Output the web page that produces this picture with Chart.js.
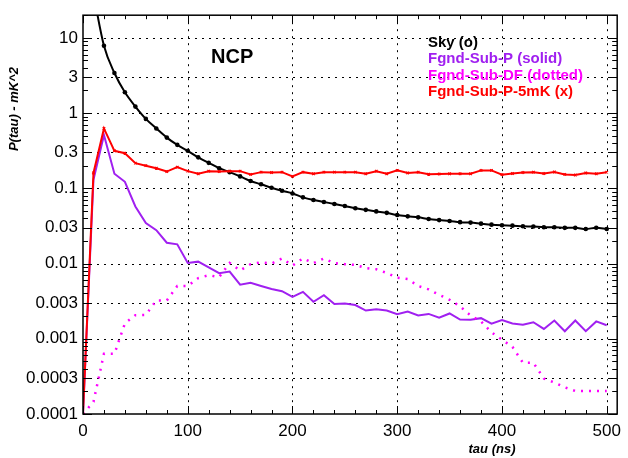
<!DOCTYPE html>
<html>
<head>
<meta charset="utf-8">
<title>NCP P(tau)</title>
<script src="https://cdn.jsdelivr.net/npm/chart.js@4"></script>
<style>
  html, body { margin: 0; padding: 0; background: #fff; }
  canvas { display: block; }
</style>
</head>
<body>
<canvas id="my-chart" width="628" height="458"></canvas>
<script>
// delay axis (ns), one sample every 10 ns
const tau = [0, 10, 20, 30, 40, 50, 60, 70, 80, 90,
  100, 110, 120, 130, 140, 150, 160, 170, 180, 190,
  200, 210, 220, 230, 240, 250, 260, 270, 280, 290,
  300, 310, 320, 330, 340, 350, 360, 370, 380, 390,
  400, 410, 420, 430, 440, 450, 460, 470, 480, 490, 500];

// P(tau) in mK^2
const sky = [null, 38, 7.86, 3.41, 1.89, 1.22, 0.837, 0.625, 0.472, 0.378,
  0.315, 0.258, 0.218, 0.185, 0.164, 0.144, 0.125, 0.113, 0.1016, 0.0927,
  0.0855, 0.0758, 0.0699, 0.0658, 0.0619, 0.0583, 0.0544, 0.0517, 0.0493, 0.0472,
  0.0441, 0.0424, 0.0411, 0.0391, 0.0378, 0.0368, 0.0355, 0.0350, 0.0339, 0.0329,
  0.0323, 0.0319, 0.0313, 0.0310, 0.0304, 0.0304, 0.0298, 0.0298, 0.0288, 0.0299, 0.0288];

const fgndSubP = [0.0001, 0.13, 0.511, 0.156, 0.122, 0.0573, 0.0346, 0.0278, 0.0189, 0.0180,
  0.0102, 0.0106, 0.0089, 0.00745, 0.00783, 0.00523, 0.00556, 0.00503, 0.00458, 0.00429,
  0.00361, 0.0042, 0.0031, 0.0038, 0.0029, 0.00295, 0.00281, 0.00237, 0.00246, 0.00237,
  0.00212, 0.0023, 0.00204, 0.00214, 0.0019, 0.00217, 0.0018, 0.00179, 0.00188, 0.00159,
  0.00177, 0.0016, 0.00154, 0.00166, 0.00135, 0.00175, 0.00126, 0.00175, 0.00126, 0.0017, 0.00151];

const fgndSubDF = [0.0001, 0.000145, 0.00063, 0.00063, 0.0016, 0.00206, 0.00208, 0.00323, 0.00323, 0.00503,
  0.00503, 0.0064, 0.0070, 0.0066, 0.0102, 0.0081, 0.0098, 0.0104, 0.0100, 0.0117,
  0.0094, 0.0117, 0.0101, 0.0117, 0.0101, 0.0098, 0.0096, 0.0087, 0.0084, 0.0075,
  0.00646, 0.00621, 0.00503, 0.00453, 0.00384, 0.0033, 0.0027, 0.00204, 0.0017, 0.00122,
  0.00097, 0.00078, 0.00048, 0.00048, 0.000296, 0.000262, 0.000226, 0.000202, 0.000202, 0.000202, 0.000202];

const fgndSubP5mK = [0.0001, 0.16, 0.625, 0.315, 0.293, 0.216, 0.200, 0.185, 0.167, 0.191,
  0.169, 0.156, 0.169, 0.167, 0.169, 0.169, 0.153, 0.164, 0.162, 0.164,
  0.144, 0.164, 0.156, 0.164, 0.164, 0.164, 0.164, 0.156, 0.169, 0.156,
  0.173, 0.160, 0.164, 0.154, 0.155, 0.156, 0.156, 0.156, 0.173, 0.173,
  0.152, 0.157, 0.162, 0.164, 0.157, 0.165, 0.153, 0.150, 0.160, 0.156, 0.164];

const seriesNames = ['Sky (o)', 'Fgnd-Sub-P (solid)', 'Fgnd-Sub-DF (dotted)', 'Fgnd-Sub-P-5mK (x)'];
const seriesColors = ['#000000', '#a020f0', '#ff00ff', '#ff0000'];

const xTickValues = [0, 100, 200, 300, 400, 500];
const yTickValues = [0.0001, 0.0003, 0.001, 0.003, 0.01, 0.03, 0.1, 0.3, 1, 3, 10];
const yTickLabels = ['0.0001', '0.0003', '0.001', '0.003', '0.01', '0.03', '0.1', '0.3', '1', '3', '10'];

const FONT = "'Liberation Sans', Arial, Helvetica, sans-serif";

const toPoints = vals => tau.map((t, i) => ({x: t, y: vals[i]}));

// dotted grid, boxed frame and inward ticks on all four sides
const framePlugin = {
  id: 'frame',
  beforeDatasetsDraw(chart) {
    const {ctx, chartArea: a, scales: {x, y}} = chart;
    ctx.save();
    ctx.strokeStyle = '#000';
    ctx.lineWidth = 1;
    ctx.setLineDash([2, 5]);
    ctx.beginPath();
    yTickValues.forEach(v => {
      const py = Math.round(y.getPixelForValue(v)) + 0.5;
      if (py > a.top + 2 && py < a.bottom - 2) {
        ctx.moveTo(a.left, py);
        ctx.lineTo(a.right, py);
      }
    });
    xTickValues.forEach(v => {
      const px = Math.round(x.getPixelForValue(v)) + 0.5;
      if (px > a.left + 2 && px < a.right - 2) {
        ctx.moveTo(px, a.top);
        ctx.lineTo(px, a.bottom);
      }
    });
    ctx.stroke();
    ctx.restore();
  },
  afterDatasetsDraw(chart) {
    const {ctx, chartArea: a, scales: {x, y}} = chart;
    ctx.save();
    ctx.strokeStyle = '#000';
    ctx.lineWidth = 1;
    ctx.beginPath();
    // y ticks: every integer multiple inside each decade
    for (let d = -4; d <= 1; d++) {
      for (let m = 1; m <= 9; m++) {
        const v = m * Math.pow(10, d);
        if (v < y.min || v > y.max) continue;
        const major = yTickValues.some(t => Math.abs(t - v) < v * 1e-6);
        const len = major ? 9 : 5;
        const py = Math.round(y.getPixelForValue(v)) + 0.5;
        ctx.moveTo(a.left, py); ctx.lineTo(a.left + len, py);
        ctx.moveTo(a.right, py); ctx.lineTo(a.right - len, py);
      }
    }
    // x ticks: every 20 ns
    for (let v = 0; v <= x.max; v += 20) {
      const len = v % 100 === 0 ? 8 : 4;
      const px = Math.round(x.getPixelForValue(v)) + 0.5;
      ctx.moveTo(px, a.bottom); ctx.lineTo(px, a.bottom - len);
      ctx.moveTo(px, a.top); ctx.lineTo(px, a.top + len);
    }
    ctx.stroke();
    ctx.lineWidth = 1.5;
    ctx.strokeRect(a.left, a.top, a.right - a.left, a.bottom - a.top);
    ctx.restore();
  },
  afterDraw(chart) {
    const {ctx} = chart;
    ctx.save();
    ctx.fillStyle = '#000';
    ctx.font = 'bold 20px ' + FONT;
    ctx.textBaseline = 'alphabetic';
    ctx.fillText('NCP', 211, 63);

    ctx.font = 'bold 15px ' + FONT;
    seriesNames.forEach((name, i) => {
      ctx.fillStyle = seriesColors[i];
      ctx.fillText(name, 428, 47 + i * 16.3);
    });

    ctx.fillStyle = '#000';
    ctx.font = 'italic bold 13px ' + FONT;
    ctx.textAlign = 'center';
    ctx.textBaseline = 'middle';
    ctx.fillText('tau (ns)', 492, 449);
    ctx.translate(14, 109);
    ctx.rotate(-Math.PI / 2);
    ctx.fillText('P(tau) - mK^2', 0, 0);
    ctx.restore();
  }
};

const ctx = document.getElementById('my-chart').getContext('2d');
const chart = new Chart(ctx, {
  type: 'line',
  data: {
    datasets: [
      {
        label: seriesNames[0],
        data: toPoints(sky),
        borderColor: seriesColors[0],
        backgroundColor: seriesColors[0],
        borderWidth: 2,
        pointRadius: 2.3,
        pointBorderWidth: 0,
        cubicInterpolationMode: 'monotone',
        order: 4
      },
      {
        label: seriesNames[1],
        data: toPoints(fgndSubP),
        borderColor: seriesColors[1],
        borderWidth: 2,
        pointRadius: 0,
        order: 3
      },
      {
        label: seriesNames[2],
        data: toPoints(fgndSubDF),
        borderColor: seriesColors[2],
        borderWidth: 2.5,
        borderDash: [2, 6],
        pointRadius: 0,
        order: 2
      },
      {
        label: seriesNames[3],
        data: toPoints(fgndSubP5mK),
        borderColor: seriesColors[3],
        backgroundColor: seriesColors[3],
        borderWidth: 2,
        pointStyle: 'crossRot',
        pointRadius: 1.8,
        pointBorderWidth: 1.2,
        order: 1
      }
    ]
  },
  options: {
    responsive: false,
    animation: false,
    devicePixelRatio: 1,
    layout: {padding: {top: 9, right: 3, left: 0, bottom: 0}},
    plugins: {legend: {display: false}, tooltip: {enabled: false}},
    font: {family: FONT},
    scales: {
      x: {
        type: 'linear',
        min: 0,
        max: 510,
        grid: {display: false, drawTicks: false},
        border: {display: false},
        afterBuildTicks: scale => { scale.ticks = xTickValues.map(v => ({value: v})); },
        afterFit: scale => { scale.height = 44; },
        ticks: {
          color: '#000',
          font: {family: FONT, size: 17},
          padding: 7,
          maxRotation: 0,
          autoSkip: false,
          callback: value => String(value)
        }
      },
      y: {
        type: 'logarithmic',
        min: 0.0001,
        max: 20,
        grid: {display: false, drawTicks: false},
        border: {display: false},
        afterBuildTicks: scale => { scale.ticks = yTickValues.map(v => ({value: v})); },
        afterFit: scale => { scale.width = 83; },
        ticks: {
          color: '#000',
          font: {family: FONT, size: 17},
          padding: 5,
          autoSkip: false,
          callback: (value, index) => yTickLabels[index]
        }
      }
    }
  },
  plugins: [framePlugin]
});
</script>
</body>
</html>
